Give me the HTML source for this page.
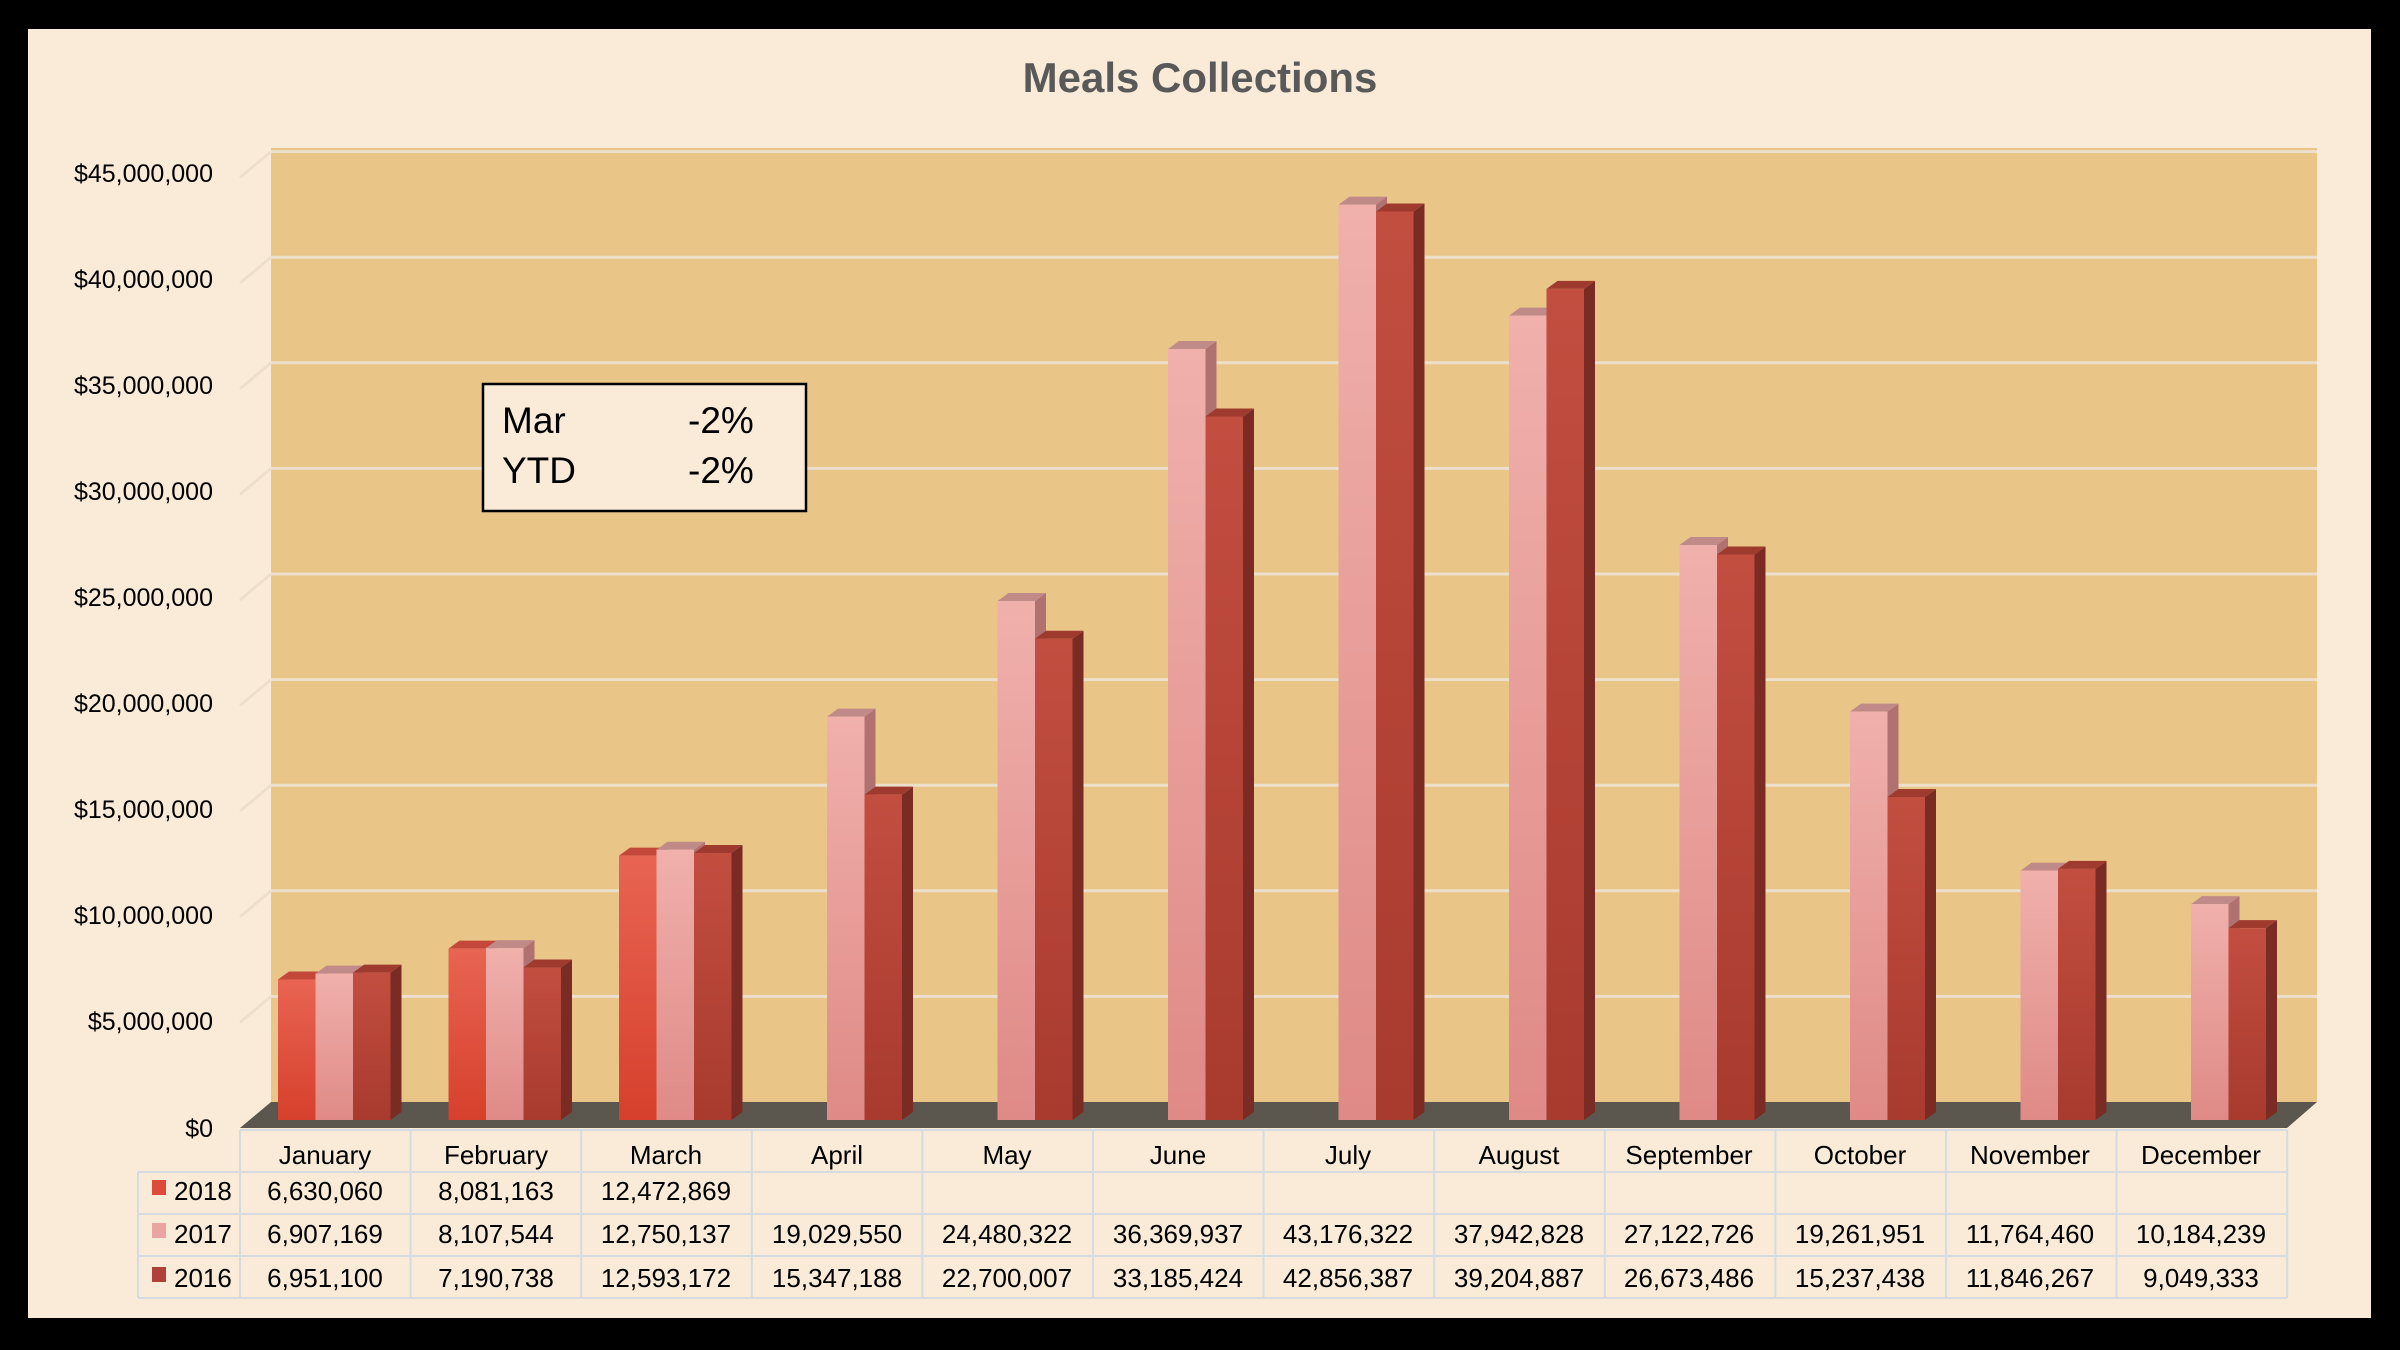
<!DOCTYPE html>
<html><head><meta charset="utf-8"><style>
html,body{margin:0;padding:0;background:#000;}
svg{display:block;}
text{font-family:"Liberation Sans",sans-serif;}
</style></head><body>
<svg id="s" width="2400" height="1350" viewBox="0 0 2400 1350" xmlns="http://www.w3.org/2000/svg">
<defs>
<linearGradient id="g18" x1="0" y1="0" x2="0" y2="1"><stop offset="0" stop-color="#e86452"/><stop offset="1" stop-color="#d6402c"/></linearGradient>
<linearGradient id="g17" x1="0" y1="0" x2="0" y2="1"><stop offset="0" stop-color="#f0b0ac"/><stop offset="1" stop-color="#df8a86"/></linearGradient>
<linearGradient id="g16" x1="0" y1="0" x2="0" y2="1"><stop offset="0" stop-color="#c24e40"/><stop offset="1" stop-color="#a83a2e"/></linearGradient>
</defs>
<rect x="0" y="0" width="2400" height="1350" fill="#000"/>
<rect x="28" y="29" width="2343" height="1289" fill="#f9ebd8"/>
<text x="1200" y="92" text-anchor="middle" font-size="42" font-weight="bold" fill="#595959">Meals Collections</text>
<!-- back wall -->
<rect x="271" y="148" width="2046" height="954" fill="#e9c687"/>
<g id="grid" stroke="#ece0cc" stroke-width="3"></g>
<!-- floor -->
<polygon points="271,1102 2317,1102 2287,1128 240,1128" fill="#5b574e"/>
<g id="bars"></g>
<!-- y labels -->
<g font-size="25" fill="#000" text-anchor="end">
<text x="213" y="182">$45,000,000</text>
<text x="213" y="288">$40,000,000</text>
<text x="213" y="394">$35,000,000</text>
<text x="213" y="500">$30,000,000</text>
<text x="213" y="606">$25,000,000</text>
<text x="213" y="712">$20,000,000</text>
<text x="213" y="818">$15,000,000</text>
<text x="213" y="924">$10,000,000</text>
<text x="213" y="1030">$5,000,000</text>
<text x="213" y="1137">$0</text>
</g>
<!-- annotation -->
<rect x="483" y="384" width="323" height="127" fill="#f9ebd8" stroke="#000" stroke-width="2.5"/>
<g font-size="37" fill="#000">
<text x="502" y="433">Mar</text><text x="688" y="433">-2%</text>
<text x="502" y="483">YTD</text><text x="688" y="483">-2%</text>
</g>
<!-- table -->
<g id="tbl" stroke="#d5dbe0" stroke-width="2" fill="none"></g>
<g font-size="26" fill="#000" text-anchor="middle">
<text x="325" y="1164">January</text><text x="496" y="1164">February</text><text x="666" y="1164">March</text><text x="837" y="1164">April</text><text x="1007" y="1164">May</text><text x="1178" y="1164">June</text><text x="1348" y="1164">July</text><text x="1519" y="1164">August</text><text x="1689" y="1164">September</text><text x="1860" y="1164">October</text><text x="2030" y="1164">November</text><text x="2201" y="1164">December</text>
<text x="325" y="1200">6,630,060</text><text x="496" y="1200">8,081,163</text><text x="666" y="1200">12,472,869</text>
<text x="325" y="1243">6,907,169</text><text x="496" y="1243">8,107,544</text><text x="666" y="1243">12,750,137</text><text x="837" y="1243">19,029,550</text><text x="1007" y="1243">24,480,322</text><text x="1178" y="1243">36,369,937</text><text x="1348" y="1243">43,176,322</text><text x="1519" y="1243">37,942,828</text><text x="1689" y="1243">27,122,726</text><text x="1860" y="1243">19,261,951</text><text x="2030" y="1243">11,764,460</text><text x="2201" y="1243">10,184,239</text>
<text x="325" y="1287">6,951,100</text><text x="496" y="1287">7,190,738</text><text x="666" y="1287">12,593,172</text><text x="837" y="1287">15,347,188</text><text x="1007" y="1287">22,700,007</text><text x="1178" y="1287">33,185,424</text><text x="1348" y="1287">42,856,387</text><text x="1519" y="1287">39,204,887</text><text x="1689" y="1287">26,673,486</text><text x="1860" y="1287">15,237,438</text><text x="2030" y="1287">11,846,267</text><text x="2201" y="1287">9,049,333</text>
</g>
<g font-size="26" fill="#000">
<rect x="152" y="1180" width="14" height="15" fill="#dc4c3a"/><text x="174" y="1200">2018</text>
<rect x="152" y="1223" width="14" height="15" fill="#eaa4a2"/><text x="174" y="1243">2017</text>
<rect x="152" y="1267" width="14" height="15" fill="#b0403a"/><text x="174" y="1287">2016</text>
</g>
</svg>
<script>
var NS="http://www.w3.org/2000/svg";
function el(p,t,a){var e=document.createElementNS(NS,t);for(var k in a)e.setAttribute(k,a[k]);p.appendChild(e);return e;}
var grid=document.getElementById('grid');
for(var n=1;n<=9;n++){var y=1102-n*105.6;el(grid,'line',{x1:271,x2:2317,y1:y,y2:y});el(grid,'line',{x1:240,x2:271,y1:y+26,y2:y});}
var tb=document.getElementById('tbl');
var c0=240,cw=170.6;
el(tb,'line',{x1:240,x2:2287,y1:1130,y2:1130});
[1172,1214,1256,1298].forEach(function(y){el(tb,'line',{x1:138,x2:2287,y1:y,y2:y});});
for(var i=0;i<=12;i++){var x=c0+i*cw;el(tb,'line',{x1:x,x2:x,y1:1130,y2:1298});}
el(tb,'line',{x1:138,x2:138,y1:1172,y2:1298});
var d=[[6.630060,8.081163,12.472869],[6.907169,8.107544,12.750137,19.029550,24.480322,36.369937,43.176322,37.942828,27.122726,19.261951,11.764460,10.184239],[6.951100,7.190738,12.593172,15.347188,22.700007,33.185424,42.856387,39.204887,26.673486,15.237438,11.846267,9.049333]];
var front=['url(#g18)','url(#g17)','url(#g16)'],top_=['#c4483a','#c08a88','#9e3a2e'],side=['#a8382a','#b07270','#7a2c24'];
var g=document.getElementById('bars');
var B=1120,w=37.5,dx=11,dy=8;
for(var i=0;i<12;i++)for(var k=0;k<3;k++){
 var v=d[k][i];if(v===undefined)continue;
 var x=278+i*170.5+k*w,h=v*21.2,y=B-h;
 el(g,'polygon',{points:[x+w,y,x+w+dx,y-dy,x+w+dx,B-dy,x+w,B].join(','),fill:side[k]});
 el(g,'polygon',{points:[x,y,x+dx,y-dy,x+w+dx,y-dy,x+w,y].join(','),fill:top_[k]});
 el(g,'rect',{x:x,y:y,width:w,height:h,fill:front[k]});
}
</script>
</body></html>
